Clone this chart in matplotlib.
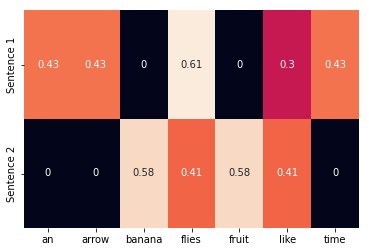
import matplotlib
matplotlib.use("Agg")
import matplotlib.pyplot as plt
import seaborn as sns
import numpy as np

words = ["an", "arrow", "banana", "flies", "fruit", "like", "time"]
sentences = ["Sentence 1", "Sentence 2"]
sentence1 = [0.43, 0.43, 0, 0.61, 0, 0.3, 0.43]
sentence2 = [0, 0, 0.58, 0.41, 0.58, 0.41, 0]

data = np.array([sentence1, sentence2])

plt.rcParams['font.family'] = ['DejaVu Sans']
fig = plt.figure(figsize=(369/72, 252/72), dpi=72)
ax = fig.add_axes([24/369, 24/252, 335/369, 218/252])
sns.heatmap(data, annot=True, cbar=False, cmap="rocket", vmin=0, vmax=0.61,
            xticklabels=words, yticklabels=sentences, ax=ax,
            annot_kws={"fontsize": 10})
ax.tick_params(labelsize=10)
plt.setp(ax.get_yticklabels(), rotation=90, va="center")
fig.savefig("out.png", dpi=72)
